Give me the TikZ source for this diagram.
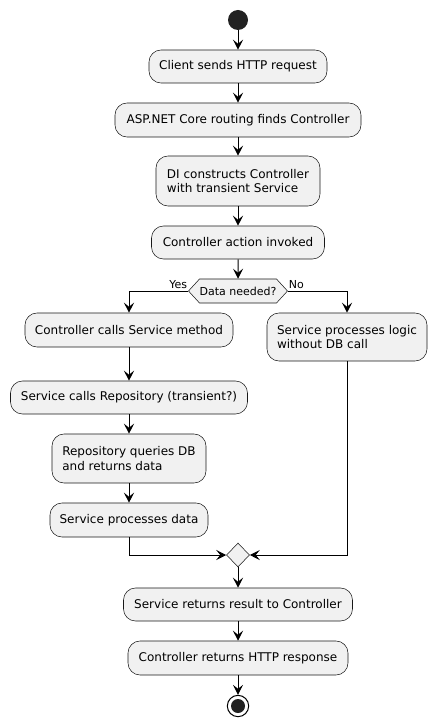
\documentclass[tikz,border=0pt]{standalone}
\usepackage{fontspec}
\setmainfont{DejaVu Sans}
\usetikzlibrary{arrows.meta,shapes.geometric,shapes.symbols}
\definecolor{boxfill}{HTML}{F1F1F1}
\definecolor{boxline}{HTML}{181818}
\definecolor{dot}{HTML}{222222}
\tikzset{
  act/.style={draw=boxline, fill=boxfill, line width=0.4pt, rounded corners=9pt,
    font=\fontsize{9pt}{11pt}\selectfont, align=left, inner sep=0pt},
  arr/.style={draw=black, line width=0.75pt, -{Stealth[length=7.5pt,width=7.5pt,inset=3pt]}},
  lbl/.style={font=\fontsize{8.25pt}{10pt}\selectfont, inner sep=0.5pt}
}
\begin{document}
\begin{tikzpicture}[x=0.75pt,y=-0.75pt]
\useasboundingbox (0,0) rectangle (437,727);
\node[circle, fill=dot, minimum size=15pt, inner sep=0pt] (start) at (238,20) {};
\node[act, minimum width=178*0.75pt, minimum height=33*0.75pt] (b1) at (238,66.5) {Client sends HTTP request};
\node[act, minimum width=246*0.75pt, minimum height=34*0.75pt] (b2) at (238,120) {ASP.NET Core routing finds Controller};
\node[act, minimum width=164*0.75pt, minimum height=50*0.75pt] (b3) at (238,181) {DI constructs Controller\\with transient Service};
\node[act, minimum width=173*0.75pt, minimum height=33*0.75pt] (b4) at (238,242.5) {Controller action invoked};
\node[draw=boxline, fill=boxfill, line width=0.4pt, shape=signal, signal to=east and west, signal pointer angle=95,
  minimum width=99*0.75pt, minimum height=24*0.75pt, inner sep=0pt, font=\fontsize{8.25pt}{10pt}\selectfont] (dec) at (238,291) {Data needed?};
\node[lbl, anchor=south east] (yes) at ([yshift=1pt]dec.west) {Yes};
\node[lbl, anchor=south west] (no) at ([yshift=1pt]dec.east) {No};
\node[act, minimum width=208*0.75pt, minimum height=34*0.75pt] (l1) at (129,330) {Controller calls Service method};
\node[act, minimum width=160*0.75pt, minimum height=48*0.75pt] (r1) at (347,337) {Service processes logic\\without DB call};
\node[act, minimum width=237*0.75pt, minimum height=33*0.75pt] (l2) at (129,397.5) {Service calls Repository (transient?)};
\node[act, minimum width=154*0.75pt, minimum height=49*0.75pt] (l3) at (129,458.5) {Repository queries DB\\and returns data};
\node[act, minimum width=158*0.75pt, minimum height=34*0.75pt] (l4) at (129,520) {Service processes data};
\node[draw=boxline, fill=boxfill, line width=0.4pt, diamond, minimum width=23*0.75pt, minimum height=24*0.75pt, inner sep=0pt] (merge) at (238,555) {};
\node[act, minimum width=229*0.75pt, minimum height=33*0.75pt] (e1) at (238,604.5) {Service returns result to Controller};
\node[act, minimum width=220*0.75pt, minimum height=34*0.75pt] (e2) at (238,658) {Controller returns HTTP response};
\node[circle, draw=black, line width=0.75pt, fill=white, minimum size=16pt, inner sep=0pt] (end) at (238,706) {};
\node[circle, fill=dot, minimum size=10.5pt, inner sep=0pt] (endin) at (238,706) {};
\draw[arr] (start) -- (b1);
\draw[arr] (b1) -- (b2);
\draw[arr] (b2) -- (b3);
\draw[arr] (b3) -- (b4);
\draw[arr] (b4) -- (dec);
\draw[arr] (dec.west) -| (l1.north);
\draw[arr] (dec.east) -| (r1.north);
\draw[arr] (l1) -- (l2);
\draw[arr] (l2) -- (l3);
\draw[arr] (l3) -- (l4);
\draw[arr] (l4.south) |- (merge.west);
\draw[arr] (r1.south) |- (merge.east);
\draw[arr] (merge) -- (e1);
\draw[arr] (e1) -- (e2);
\draw[arr] (e2) -- (end);
\end{tikzpicture}
\end{document}
